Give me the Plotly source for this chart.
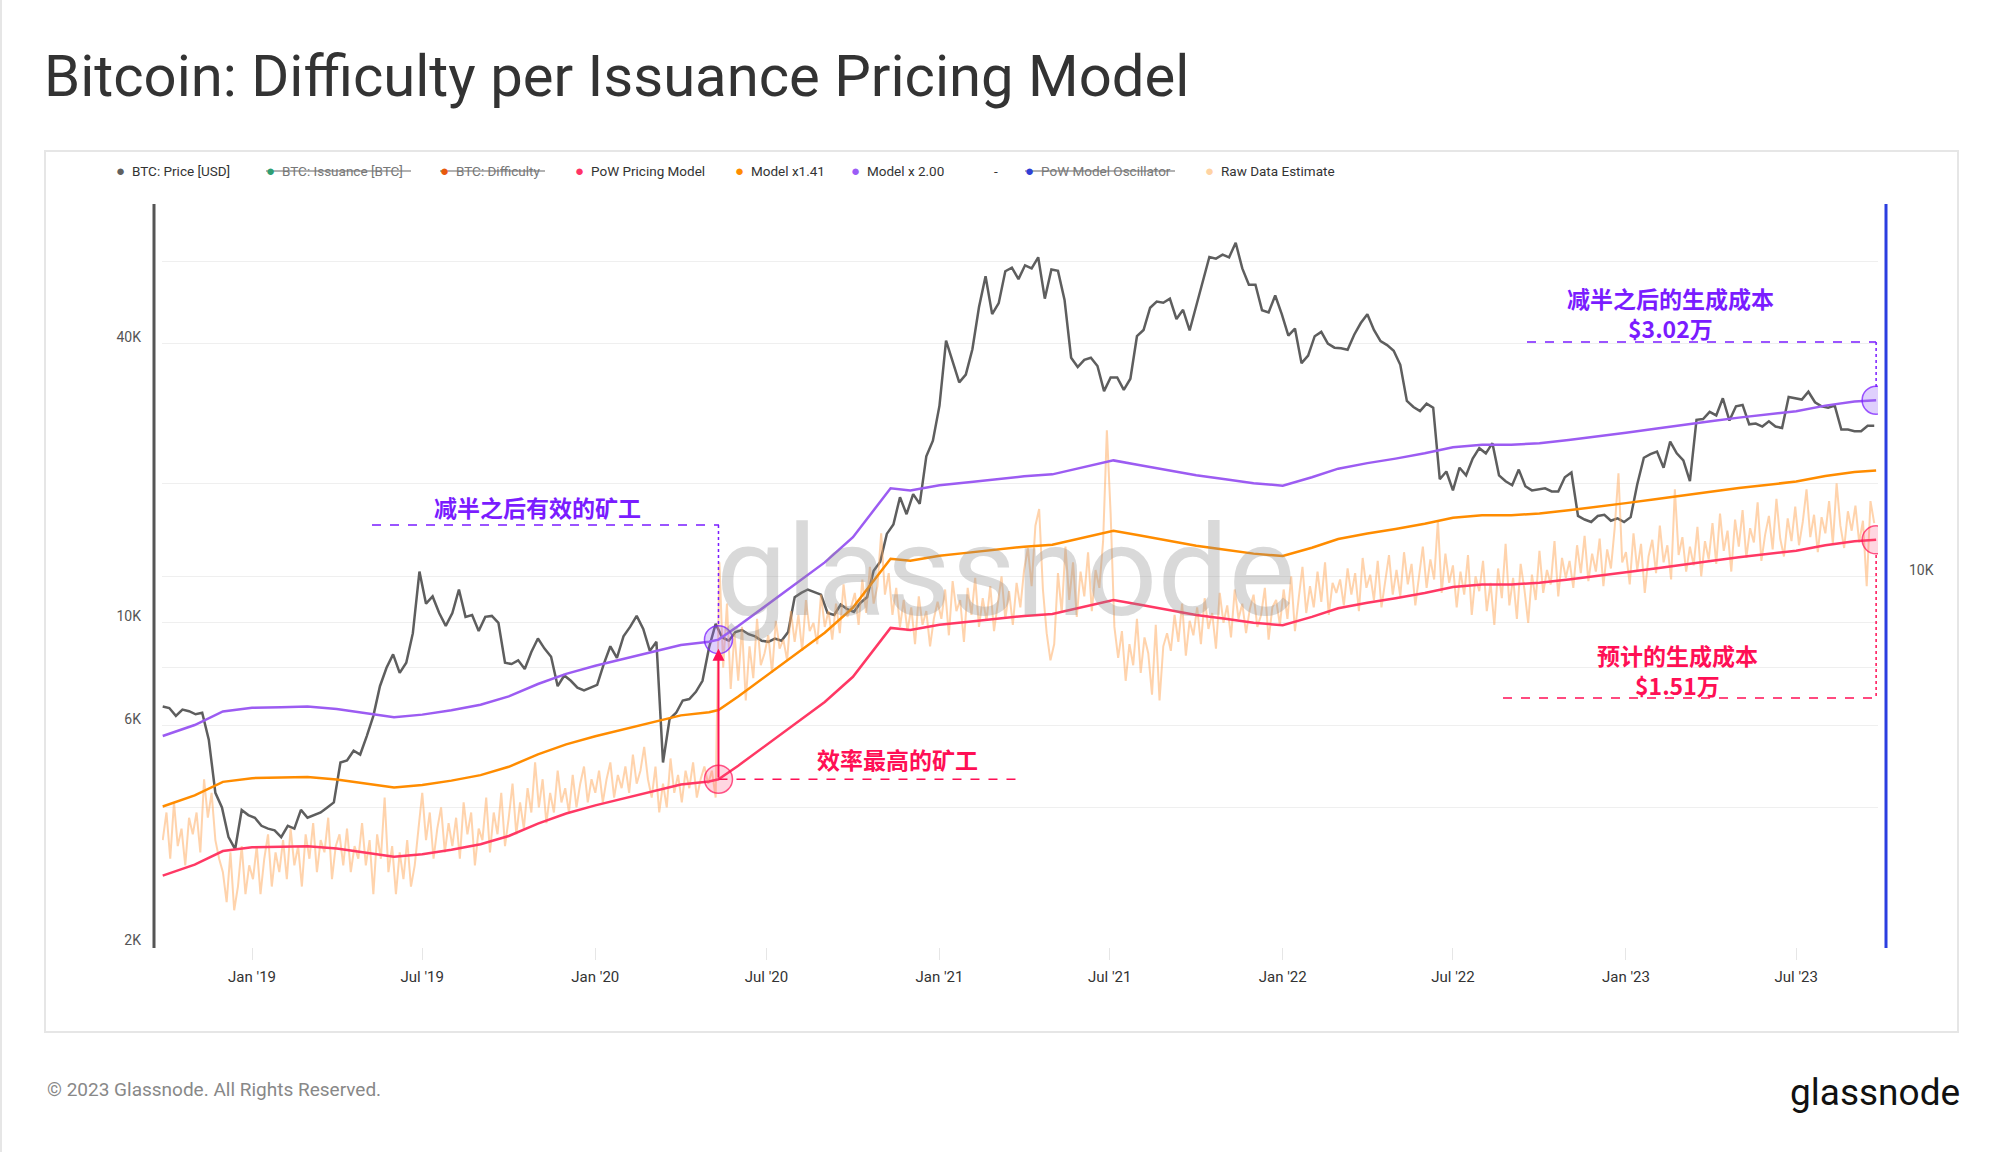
import numpy as np
import pandas as pd
import plotly.graph_objects as go

# ---------------- data (USD thousands) ----------------
# BTC price, weekly (Fridays) starting 2018-09-28
price_start = "2018-09-28"
price_2018 = [6.60, 6.55, 6.30, 6.50, 6.45, 6.35, 6.40, 5.60, 4.30, 4.00, 3.45, 3.25, 3.95, 3.85]
price_2019 = [3.80, 3.65, 3.60, 3.57, 3.45, 3.65, 3.60, 3.95, 3.80, 3.85, 3.90, 4.00, 4.10,
              5.00, 5.05, 5.30, 5.20, 5.70, 6.30, 7.30, 8.00, 8.55, 7.80, 8.20, 9.50, 12.90,
              11.00, 11.40, 10.50, 9.85, 10.50, 11.80, 10.30, 10.40, 9.60, 10.30, 10.35, 10.00,
              8.20, 8.15, 8.30, 7.95, 8.65, 9.25, 8.80, 8.45, 7.30, 7.70, 7.50, 7.25, 7.15, 7.25]
price_2020 = [7.35, 8.15, 8.90, 8.40, 9.35, 9.80, 10.35, 9.70, 8.70, 9.10, 5.00, 6.20, 6.40,
              6.80, 6.85, 7.10, 7.50, 8.85, 9.95, 9.30, 9.15, 9.55, 9.65, 9.45, 9.35, 9.15,
              9.10, 9.25, 9.15, 9.55, 11.35, 11.60, 11.80, 11.65, 11.50, 10.50, 10.40, 10.95,
              10.70, 10.55, 11.05, 11.35, 12.95, 13.55, 15.55, 16.30, 18.65, 17.15, 18.95,
              18.05, 22.85, 24.70]
price_2021 = [29.4, 40.6, 36.8, 33.0, 34.3, 38.9, 47.9, 55.9, 46.3, 48.9, 57.3, 58.3, 55.1,
              59.0, 58.1, 61.4, 50.0, 57.8, 57.4, 49.7, 37.3, 35.6, 36.9, 37.3, 35.8, 31.6,
              33.8, 33.8, 31.8, 33.6, 41.5, 42.8, 47.8, 49.3, 49.0, 50.0, 45.2, 47.3, 42.7,
              48.1, 53.9, 61.5, 61.0, 62.2, 61.4, 66.0, 58.1, 53.6, 53.6, 47.2, 46.7, 50.8, 46.3]
price_2022 = [41.6, 43.1, 36.3, 37.7, 41.5, 42.4, 40.0, 39.2, 39.1, 38.8, 41.8, 44.3, 46.3,
              42.8, 40.5, 39.7, 38.6, 36.0, 30.1, 29.2, 28.6, 29.7, 29.1, 20.4, 21.2, 19.3,
              21.6, 20.8, 22.6, 23.8, 23.2, 24.4, 20.8, 20.2, 19.8, 21.4, 19.7, 19.3, 19.4,
              19.5, 19.2, 19.2, 20.6, 21.1, 17.0, 16.7, 16.5, 17.0, 17.1, 16.6, 16.8, 16.5]
price_2023 = [16.9, 19.9, 22.7, 23.1, 23.4, 21.6, 24.6, 23.2, 22.4, 20.2, 27.4, 27.5, 28.5,
              28.0, 30.5, 27.3, 29.3, 29.5, 26.8, 26.9, 26.5, 27.2, 26.5, 26.3, 30.7, 30.5,
              30.3, 31.5, 29.9, 29.3, 29.1, 29.4, 26.1, 26.1, 25.9, 25.9, 26.6, 26.6]

# Raw data estimate, one value every 4 days starting 2018-09-28
raw_start = "2018-09-28"
raw_2018 = [3.4, 3.9, 3.1, 4.1, 3.3, 3.6, 3.0, 3.8,
            3.5, 3.9, 3.2, 4.6, 3.8, 4.3, 3.4, 3.1,
            2.9, 2.5, 3.2, 2.4, 2.7, 3.3, 2.6, 3.0]
raw_2019 = [2.8, 3.3, 2.6, 3.1, 3.5, 2.7, 3.2, 2.9,
            3.4, 2.8, 3.6, 3.0, 3.3, 2.7, 3.5,
            3.1, 3.7, 2.9, 3.4, 3.2, 3.8, 2.8, 3.3,
            3.5, 3.0, 3.6, 2.9, 3.3, 3.1, 3.7,
            3.0, 3.4, 2.6, 3.5, 3.1, 4.2, 2.9, 3.3,
            2.6, 3.2, 2.8, 3.4, 2.7, 3.0, 3.6,
            4.3, 3.4, 3.9, 3.1, 3.6, 4.0, 3.2, 3.7,
            3.3, 3.8, 3.1, 4.1, 3.5, 3.9, 3.0, 3.6,
            3.4, 4.2, 3.2, 3.9, 3.5, 4.3, 3.3,
            3.8, 4.5, 3.5, 4.1, 3.6, 4.4, 3.9, 5.0,
            4.0, 4.6, 3.7, 4.3, 3.9, 4.8, 4.1,
            4.4, 3.9, 4.7, 4.0, 4.5, 4.9, 4.1, 4.6]
raw_2020 = [4.3, 4.8, 4.1, 4.6, 5.0, 4.2, 4.7, 4.4,
            4.9, 4.3, 5.2, 4.5, 4.8, 5.4, 4.6,
            4.2, 4.9, 3.9, 4.5, 4.0, 5.1, 4.3, 4.7,
            4.1, 4.8, 4.4, 5.0, 4.2, 4.6, 4.9,
            4.5, 4.8, 4.2, 13.5, 8.0, 11.0, 7.2, 9.5,
            7.5, 9.8, 6.8, 8.9, 7.6, 10.2, 8.1,
            8.6, 9.4, 7.8, 10.1, 8.8, 9.2, 8.3, 10.6,
            9.1, 10.4, 8.7, 11.2, 9.6, 10.0, 9.0, 11.5,
            9.8, 10.6, 9.2, 11.0, 9.5, 12.1, 10.3,
            10.8, 11.6, 9.9, 12.4, 10.5, 13.2, 11.0, 12.0,
            15.6, 11.5, 12.8, 10.4, 11.9, 9.8, 11.2,
            9.6, 10.8, 9.0, 11.4, 9.9, 10.6, 8.9, 10.2, 11.1]
raw_2021 = [10.2, 11.8, 9.4, 12.3, 10.6, 11.2, 9.1, 11.9,
            10.4, 12.5, 9.8, 11.3, 10.1, 12.0, 9.6,
            11.0, 12.6, 10.2, 11.7, 9.9, 12.2, 10.8, 13.0,
            14.5, 12.0, 16.2, 17.6, 11.8, 9.5, 8.3,
            9.0, 12.8, 10.5, 14.6, 11.2, 13.5, 10.3, 12.9,
            11.4, 14.2, 10.6, 13.0, 11.9, 15.0, 26.0,
            17.2, 9.8, 8.4, 9.6, 7.5, 9.0, 8.1, 10.2,
            7.8, 9.3, 8.6, 7.0, 9.9, 6.8, 8.9, 9.5,
            8.7, 10.4, 9.1, 11.0, 8.5, 10.1, 9.4,
            10.8, 9.0, 11.3, 9.7, 10.5, 8.8, 11.6, 10.0,
            10.9, 9.3, 11.8, 10.2, 11.0, 9.5, 10.7,
            11.5, 9.8, 10.4, 11.9, 9.2, 10.8, 11.2, 9.9]
raw_2022 = [11.8, 10.2, 12.6, 9.6, 11.3, 13.2, 10.5, 12.0,
            10.8, 12.9, 11.1, 13.5, 10.4, 12.2, 11.6,
            12.4, 10.9, 13.1, 11.5, 12.8, 10.6, 13.8, 11.9,
            12.7, 11.2, 13.6, 10.8, 12.3, 14.0, 11.5,
            13.0, 11.4, 14.2, 12.1, 13.4, 10.9, 12.8, 14.6,
            11.9, 13.7, 12.4, 16.6, 11.6, 14.1, 12.2,
            13.3, 10.8, 12.9, 11.5, 14.0, 10.4, 12.6, 11.7,
            13.6, 10.6, 12.2, 9.9, 13.1, 11.3, 14.8, 10.9,
            12.5, 10.2, 13.4, 11.8, 10.0, 12.7, 11.2,
            14.3, 11.6, 13.0, 12.1, 15.0, 11.4, 13.8, 12.5,
            13.6, 11.9, 14.7, 12.8, 15.4, 12.3, 14.1,
            12.9, 15.2, 12.0, 14.4, 13.1, 16.0, 21.0, 13.5]
raw_2023 = [14.2, 12.1, 15.6, 13.0, 14.8, 11.6, 13.9, 15.1,
            12.8, 16.2, 13.5, 14.7, 12.4, 19.4, 14.0,
            15.3, 12.9, 14.6, 13.3, 16.1, 12.6, 15.0, 13.7,
            16.4, 13.4, 17.2, 14.3, 15.8, 12.9, 16.7,
            14.6, 17.5, 13.8, 16.0, 14.9, 18.2, 13.6, 15.5,
            17.0, 14.4, 18.5, 15.2, 13.9, 16.8, 15.0,
            17.8, 14.7, 16.5, 19.4, 15.3, 17.1, 14.2, 16.9,
            15.6, 18.3, 14.8, 20.0, 16.2, 14.5, 17.4, 15.8,
            17.9, 14.9, 16.6, 12.0, 18.3, 16.4]

# PoW pricing model (difficulty per issuance)
pow_dates = ["2018-09-28", "2018-11-01", "2018-12-01", "2019-01-01", "2019-02-01", "2019-03-01",
             "2019-04-01", "2019-05-01", "2019-06-01", "2019-07-01", "2019-08-01", "2019-09-01",
             "2019-10-01", "2019-11-01", "2019-12-01", "2020-01-01", "2020-02-01", "2020-03-01",
             "2020-04-01", "2020-05-01", "2020-05-11", "2020-06-01", "2020-07-01", "2020-08-01",
             "2020-09-01", "2020-10-01", "2020-11-01", "2020-11-10", "2020-12-01", "2021-01-01",
             "2021-02-01", "2021-03-01", "2021-04-01", "2021-05-01", "2021-06-01", "2021-07-05",
             "2021-08-01", "2021-09-01", "2021-10-01", "2021-11-01", "2021-12-01", "2022-01-01",
             "2022-02-01", "2022-03-01", "2022-04-01", "2022-05-01", "2022-06-01", "2022-07-01",
             "2022-08-01", "2022-09-01", "2022-10-01", "2022-11-01", "2022-12-01", "2023-01-01",
             "2023-02-01", "2023-03-01", "2023-04-01", "2023-05-01", "2023-06-01", "2023-07-01",
             "2023-08-01", "2023-09-01", "2023-09-24"]
pow_model = [2.85, 3.01, 3.22, 3.28, 3.29, 3.30,
             3.26, 3.20, 3.13, 3.17, 3.24, 3.33,
             3.47, 3.69, 3.88, 4.04, 4.19, 4.33,
             4.48, 4.55, 4.60, 4.92, 5.45, 6.05,
             6.75, 7.65, 9.20, 9.75, 9.65, 9.90,
             10.05, 10.20, 10.35, 10.45, 10.80, 11.20,
             10.95, 10.65, 10.40, 10.20, 10.00, 9.88,
             10.30, 10.75, 11.05, 11.30, 11.60, 11.95,
             12.10, 12.10, 12.20, 12.40, 12.60, 12.85,
             13.10, 13.35, 13.60, 13.85, 14.10, 14.30,
             14.70, 15.00, 15.10]
model_mults = [1.41, 2.00]
halving_date = "2020-05-11"

x_tickvals = ["2019-01-01", "2019-07-01", "2020-01-01", "2020-07-01", "2021-01-01",
              "2021-07-01", "2022-01-01", "2022-07-01", "2023-01-01", "2023-07-01"]
x_ticktext = ["Jan '19", "Jul '19", "Jan '20", "Jul '20", "Jan '21",
              "Jul '21", "Jan '22", "Jul '22", "Jan '23", "Jul '23"]
y_tickvals = [2000, 4000, 6000, 8000, 10000, 20000, 40000, 60000, 80000]
y_ticktext = ["2K", "", "6K", "", "10K", "", "40K", "", ""]

legend_names = ["BTC: Price [USD]", "BTC: Issuance [BTC]", "BTC: Difficulty", "PoW Pricing Model",
                "Model x1.41", "Model x 2.00", "-", "PoW Model Oscillator", "Raw Data Estimate"]
legend_colors = ["#606060", "#2f9e72", "#e8590c", "#ff3366", "#ff8c00", "#9b5cf6", None,
                 "#2f3fd6", "#ffd3a3"]
legend_struck = [False, True, True, False, False, False, False, True, False]

# ---------------- build series ----------------
btc_price = np.array(price_2018 + price_2019 + price_2020 + price_2021 + price_2022 + price_2023) * 1000
price_dates = pd.date_range(price_start, periods=len(btc_price), freq="7D")
raw_est = np.array(raw_2018 + raw_2019 + raw_2020 + raw_2021 + raw_2022 + raw_2023) * 1000
raw_dates = pd.date_range(raw_start, periods=len(raw_est), freq="4D")
pow_line = np.array(pow_model) * 1000
model_141 = pow_line * model_mults[0]
model_200 = pow_line * model_mults[1]

halv_red = pow_line[pow_dates.index(halving_date)]
halv_purple = model_200[pow_dates.index(halving_date)]
end_date = pow_dates[-1]
end_red = pow_line[-1]
end_purple = model_200[-1]

# ---------------- page geometry (pixels) ----------------
W, H = 2000, 1152
L, R, T, B = 162, 122, 204, 205


def px(x):
    return (x - L) / (W - L - R)


def py(y):
    return (H - B - y) / (H - T - B)


PURPLE = "#7a1cff"
RED = "#ff0f55"
CJK = "Noto Sans CJK SC"

fig = go.Figure()
fig.add_trace(go.Scatter(x=price_dates, y=btc_price, mode="lines",
                         line=dict(color="#5e5e5e", width=2.5)))
fig.add_trace(go.Scatter(x=raw_dates, y=raw_est, mode="lines",
                         line=dict(color="rgba(255,168,90,0.5)", width=2)))
fig.add_trace(go.Scatter(x=pow_dates, y=pow_line, mode="lines",
                         line=dict(color="#ff3864", width=2.5)))
fig.add_trace(go.Scatter(x=pow_dates, y=model_141, mode="lines",
                         line=dict(color="#ff8c00", width=2.5)))
fig.add_trace(go.Scatter(x=pow_dates, y=model_200, mode="lines",
                         line=dict(color="#9c5cf2", width=2.5)))
# highlight circles on the model lines
fig.add_trace(go.Scatter(x=[halving_date, end_date], y=[halv_purple, end_purple], mode="markers",
                         marker=dict(size=28, color="rgba(150,100,250,0.3)",
                                     line=dict(color="rgba(122,28,255,0.75)", width=1.5))))
fig.add_trace(go.Scatter(x=[halving_date, end_date], y=[halv_red, end_red], mode="markers",
                         marker=dict(size=28, color="rgba(255,70,120,0.22)",
                                     line=dict(color="rgba(255,15,85,0.7)", width=1.5))))
fig.add_trace(go.Scatter(x=[], y=[], yaxis="y2"))

shapes = []
# chart frame, axis lines
shapes.append(dict(type="rect", xref="paper", yref="paper", x0=px(45), x1=px(1958),
                   y0=py(151), y1=py(1032), line=dict(color="#e6e6e6", width=2), layer="below"))
shapes.append(dict(type="line", xref="paper", yref="paper", x0=px(1), x1=px(1),
                   y0=py(0), y1=py(H), line=dict(color="#e6e6e6", width=2)))
shapes.append(dict(type="line", xref="paper", yref="paper", x0=px(154), x1=px(154),
                   y0=py(204), y1=py(948), line=dict(color="#555555", width=3)))
shapes.append(dict(type="line", xref="paper", yref="paper", x0=px(1886), x1=px(1886),
                   y0=py(204), y1=py(948), line=dict(color="#2b3ee0", width=3)))

# leader lines
shapes += [
    dict(type="line", xref="paper", yref="paper", x0=px(372), x1=px(719), y0=py(525), y1=py(525),
         line=dict(color=PURPLE, width=1.5, dash="dash")),
    dict(type="line", xref="x", yref="paper", x0=halving_date, x1=halving_date, y0=py(525), y1=py(627),
         line=dict(color=PURPLE, width=1.5, dash="dot")),
    dict(type="line", xref="x", yref="y", x0=halving_date, x1="2021-03-31", y0=halv_red, y1=halv_red,
         line=dict(color=RED, width=1.5, dash="dash")),
    dict(type="line", xref="paper", yref="paper", x0=px(1527), x1=px(1876), y0=py(342), y1=py(342),
         line=dict(color=PURPLE, width=1.5, dash="dash")),
    dict(type="line", xref="x", yref="paper", x0=end_date, x1=end_date, y0=py(342), y1=py(387),
         line=dict(color=PURPLE, width=1.5, dash="dot")),
    dict(type="line", xref="paper", yref="paper", x0=px(1503), x1=px(1876), y0=py(698), y1=py(698),
         line=dict(color=RED, width=1.5, dash="dash")),
    dict(type="line", xref="x", yref="paper", x0=end_date, x1=end_date, y0=py(555), y1=py(698),
         line=dict(color=RED, width=1.5, dash="dot")),
]

ann = []
# title and footer
ann.append(dict(text="Bitcoin: Difficulty per Issuance Pricing Model", xref="paper", yref="paper",
                x=px(42), y=py(76), xanchor="left", yanchor="middle", showarrow=False,
                font=dict(family="Roboto", size=58, color="#333333")))
ann.append(dict(text="© 2023 Glassnode. All Rights Reserved.", xref="paper", yref="paper",
                x=px(45), y=py(1089), xanchor="left", yanchor="middle", showarrow=False,
                font=dict(family="Roboto", size=19, color="#888888")))
ann.append(dict(text="glassnode", xref="paper", yref="paper",
                x=px(1962), y=py(1092), xanchor="right", yanchor="middle", showarrow=False,
                font=dict(family="Roboto", size=37, color="#111111")))
# watermark
ann.append(dict(text="glassnode", xref="paper", yref="paper", x=px(1005), y=py(572),
                xanchor="center", yanchor="middle", showarrow=False,
                font=dict(family="Roboto", size=126, color="rgba(140,140,140,0.33)")))

# legend
leg_x = [120, 270, 444, 579, 739, 855, 996, 1029, 1209]
strike_end = {1: 411, 2: 545, 7: 1175}
for i, name in enumerate(legend_names):
    if legend_colors[i] is not None:
        ann.append(dict(text="●", xref="paper", yref="paper", x=px(leg_x[i]), y=py(171),
                        xanchor="center", yanchor="middle", showarrow=False,
                        font=dict(size=15, color=legend_colors[i])))
        tx = leg_x[i] + 10
    else:
        tx = leg_x[i] - 4
    ann.append(dict(text=name, xref="paper", yref="paper", x=px(tx), y=py(171),
                    xanchor="left", yanchor="middle", showarrow=False,
                    font=dict(family="Roboto", size=13.5,
                              color="#777777" if legend_struck[i] else "#333333")))
    if legend_struck[i]:
        shapes.append(dict(type="line", xref="paper", yref="paper", x0=px(leg_x[i] - 4),
                           x1=px(strike_end[i]), y0=py(171), y1=py(171),
                           line=dict(color="#666666", width=1.2)))

# callouts (one annotation per text line)
callouts = [("减半之后有效的矿工", 537, 507, PURPLE),
            ("效率最高的矿工", 897, 759, RED),
            ("减半之后的生成成本", 1670, 298, PURPLE),
            ("$3.02万", 1670, 328, PURPLE),
            ("预计的生成成本", 1677, 655, RED),
            ("$1.51万", 1677, 685, RED)]
for text, cx, cy, col in callouts:
    ann.append(dict(text="<b>" + text + "</b>", xref="paper", yref="paper", x=px(cx), y=py(cy),
                    xanchor="center", yanchor="middle", showarrow=False,
                    font=dict(family=CJK, size=23, color=col)))
# arrow from most efficient miners up to the post-halving cost
ann.append(dict(text="", x=halving_date, y=np.log10(halv_purple), ax=halving_date,
                ay=np.log10(halv_red), xref="x", yref="y", axref="x", ayref="y",
                showarrow=True, arrowhead=2, arrowsize=1.2, arrowwidth=2, arrowcolor=RED,
                standoff=9))

fig.update_layout(
    width=W, height=H,
    margin=dict(l=L, r=R, t=T, b=B),
    paper_bgcolor="white", plot_bgcolor="white",
    showlegend=False,
    font=dict(family="Roboto", color="#333333"),
    xaxis=dict(type="date", range=["2018-09-27 06:00", "2023-09-26"],
               tickvals=x_tickvals, ticktext=x_ticktext, showgrid=False,
               ticks="outside", ticklen=12, tickcolor="#e6e6e6", tickwidth=1,
               showline=False, zeroline=False, ticklabelstandoff=4,
               tickfont=dict(size=15, color="#333333")),
    yaxis=dict(type="log", range=[np.log10(2000), np.log10(80000)],
               tickvals=y_tickvals, ticktext=y_ticktext, showgrid=True,
               gridcolor="#efefef", gridwidth=1, zeroline=False, showline=False,
               ticks="", ticklabelstandoff=20, ticklabelshift=-7,
               tickfont=dict(size=14, color="#555555")),
    yaxis2=dict(type="log", overlaying="y", side="right", range=[3, 5.008],
                tickvals=[10000], ticktext=["10K"], showgrid=True, gridcolor="#efefef",
                zeroline=False, showline=False, ticks="", ticklabelstandoff=30,
                ticklabelshift=-7, tickfont=dict(size=14, color="#555555")),
    shapes=shapes,
    annotations=ann,
)

fig.write_html("out.html", config={"displayModeBar": False},
               post_script="document.body.style.margin = '0px';")
